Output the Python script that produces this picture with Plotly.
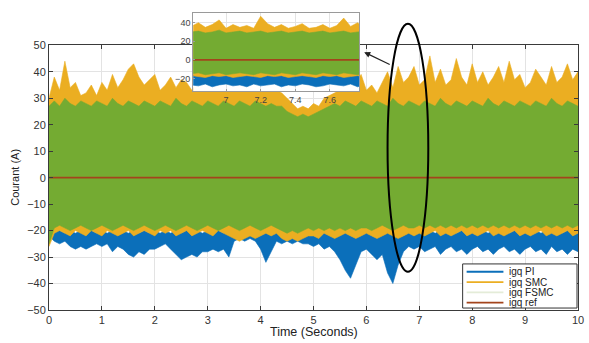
import plotly.graph_objects as go

# ---------------- data (envelopes) ----------------
time = [round(i * 0.1, 1) for i in range(101)]

smc_upper = [30, 38, 33, 44, 34, 36, 31, 32, 35, 31,
             36, 33, 39, 34, 37, 41, 43, 38, 35, 37,
             39, 33, 35, 38, 34, 37, 36, 33, 36, 34,
             38, 35, 37, 34, 39, 35, 36, 34, 38, 35,
             36, 33, 35, 33, 32, 30, 28, 26, 27, 26,
             28, 27, 30, 31, 32, 33, 35, 34, 36, 39,
             33, 35, 32, 36, 40, 34, 42, 36, 38, 42,
             35, 37, 46, 36, 41, 35, 37, 45, 38, 35,
             43, 36, 40, 35, 38, 42, 36, 44, 37, 39,
             34, 36, 41, 38, 35, 42, 36, 38, 43, 37, 40]
smc_lower = [-26, -21, -20, -21, -22, -20, -21, -22, -20, -21,
             -22, -20, -21, -22, -21, -20, -22, -21, -20, -21,
             -22, -20, -21, -20, -22, -21, -20, -22, -21, -20,
             -21, -22, -20, -21, -22, -23, -24, -23, -22, -23,
             -22, -21, -22, -21, -23, -24, -23, -24, -23, -22,
             -22, -23, -21, -22, -23, -22, -21, -22, -23, -22,
             -21, -22, -23, -22, -21, -22, -23, -22, -21, -22,
             -21, -22, -21, -20, -22, -21, -22, -21, -20, -22,
             -21, -22, -21, -20, -22, -21, -22, -21, -20, -22,
             -21, -22, -21, -20, -22, -21, -22, -21, -20, -22, -21]
fsmc_upper = [27, 29, 27, 30, 28, 27, 29, 28, 27, 29,
              28, 27, 30, 28, 27, 29, 28, 27, 29, 28,
              27, 29, 28, 27, 30, 28, 27, 29, 28, 27,
              29, 28, 27, 29, 28, 27, 29, 28, 27, 29,
              28, 27, 28, 27, 27, 25, 24, 23, 24, 23,
              24, 25, 26, 27, 28, 27, 29, 28, 27, 29,
              28, 27, 29, 28, 27, 30, 28, 27, 29, 28,
              27, 29, 28, 27, 30, 28, 27, 29, 28, 27,
              29, 28, 27, 30, 28, 27, 29, 28, 27, 29,
              28, 27, 29, 28, 27, 30, 28, 27, 29, 28, 27]
fsmc_lower = [-25, -19, -18, -19, -20, -19, -18, -19, -20, -19,
              -18, -19, -20, -19, -18, -19, -20, -19, -18, -19,
              -20, -19, -18, -19, -20, -19, -18, -19, -20, -19,
              -18, -19, -20, -19, -18, -19, -20, -19, -18, -19,
              -20, -19, -18, -19, -20, -21, -20, -21, -20, -19,
              -20, -19, -20, -19, -20, -19, -20, -19, -20, -19,
              -19, -20, -19, -18, -19, -20, -19, -18, -19, -19,
              -18, -19, -18, -19, -18, -19, -18, -19, -18, -19,
              -18, -19, -18, -19, -18, -19, -18, -19, -18, -19,
              -18, -19, -18, -19, -18, -19, -18, -19, -18, -19, -18]
pi_upper = [-22, -20, -20, -21, -20, -21, -20, -21, -20, -21,
            -20, -21, -20, -21, -20, -21, -20, -21, -20, -21,
            -20, -21, -20, -21, -20, -21, -20, -21, -20, -21,
            -20, -21, -20, -21, -20, -21, -20, -21, -20, -21,
            -20, -21, -20, -21, -20, -21, -20, -21, -20, -21,
            -20, -21, -20, -21, -20, -21, -20, -21, -20, -21,
            -20, -21, -20, -21, -20, -21, -20, -21, -20, -21,
            -20, -21, -20, -21, -20, -21, -20, -21, -20, -21,
            -20, -21, -20, -21, -20, -21, -20, -21, -20, -21,
            -20, -21, -20, -21, -20, -21, -20, -21, -20, -21, -20]
pi_lower = [-22, -24, -25, -24, -26, -27, -26, -27, -26, -25,
            -26, -25, -28, -26, -27, -29, -30, -28, -29, -27,
            -27, -26, -25, -27, -29, -31, -30, -29, -30, -28,
            -28, -27, -28, -27, -30, -24, -23, -24, -23, -24,
            -27, -32, -28, -24, -25, -24, -25, -24, -25, -25,
            -26, -25, -27, -26, -28, -31, -35, -38, -33, -28,
            -27, -29, -31, -29, -36, -40, -33, -28, -26, -27,
            -26, -28, -27, -26, -29, -27, -26, -28, -27, -29,
            -27, -26, -28, -27, -29, -27, -26, -28, -27, -29,
            -27, -26, -28, -27, -29, -26, -28, -27, -29, -27, -28]
ref_values = [0] * 101

# zoomed inset (6.8 s .. 7.8 s)
inset_time = [round(6.8 + i * 0.04, 2) for i in range(26)]
inset_smc_upper = [36, 40, 35, 38, 43, 34, 38, 35, 37, 34, 47, 39, 35,
                   38, 34, 36, 39, 34, 35, 38, 34, 37, 45, 36, 40, 35]
inset_smc_lower = [-17, -18, -19, -17, -18, -17, -19, -18, -17, -18, -19, -17, -18,
                   -17, -19, -18, -17, -18, -19, -17, -18, -17, -19, -18, -17, -18]
inset_fsmc_upper = [30, 31, 29, 30, 32, 29, 30, 31, 29, 30, 31, 29, 30,
                    31, 29, 30, 31, 29, 30, 31, 29, 30, 31, 29, 30, 31]
inset_fsmc_lower = [-15, -14, -16, -15, -14, -16, -15, -14, -15, -16, -14, -15, -16,
                    -14, -15, -16, -14, -15, -16, -14, -15, -16, -14, -15, -16, -14]
inset_pi_upper = [-16] * 26
inset_pi_lower = [-27, -28, -26, -29, -27, -26, -28, -27, -29, -26, -28, -27, -26,
                  -29, -27, -28, -26, -27, -29, -28, -26, -27, -28, -26, -29, -27]
inset_ref = [0] * 26

legend_labels = ["igq PI", "igq SMC", "igq FSMC", "igq ref"]
x_ticks = list(range(11))
y_ticks = list(range(-50, 51, 10))
inset_x_ticks = [7, 7.2, 7.4, 7.6]
inset_x_text = ["7", "7.2", "7.4", "7.6"]
inset_y_ticks = [-20, 0, 20, 40]

# ---------------- styling ----------------
C_PI = "#0b6fba"
C_SMC = "#ebae22"
C_FSMC = "#74ab32"
C_REF = "#a3441c"
FONT = "Liberation Sans"

fig = go.Figure()


def band(x, lo, hi, color, xa, ya):
    fig.add_trace(go.Scatter(x=x, y=lo, mode="lines", line=dict(color=color, width=0.6),
                             showlegend=False, hoverinfo="skip", xaxis=xa, yaxis=ya))
    fig.add_trace(go.Scatter(x=x, y=hi, mode="lines", line=dict(color=color, width=0.6),
                             fill="tonexty", fillcolor=color, showlegend=False,
                             hoverinfo="skip", xaxis=xa, yaxis=ya))


# main plot
band(time, pi_lower, pi_upper, C_PI, "x", "y")
band(time, smc_lower, smc_upper, C_SMC, "x", "y")
band(time, fsmc_lower, fsmc_upper, C_FSMC, "x", "y")
fig.add_trace(go.Scatter(x=time, y=ref_values, mode="lines", line=dict(color=C_REF, width=1.6),
                         showlegend=False, xaxis="x", yaxis="y"))

# inset
band(inset_time, inset_pi_lower, inset_pi_upper, C_PI, "x2", "y2")
band(inset_time, inset_smc_lower, inset_smc_upper, C_SMC, "x2", "y2")
band(inset_time, inset_fsmc_lower, inset_fsmc_upper, C_FSMC, "x2", "y2")
fig.add_trace(go.Scatter(x=inset_time, y=inset_ref, mode="lines", line=dict(color=C_REF, width=1.6),
                         showlegend=False, xaxis="x2", yaxis="y2"))

MAIN_TOP = 0.8852
axis_common = dict(showline=True, linecolor="#3a3a3a", linewidth=1, mirror="ticks",
                   ticks="inside", ticklen=4, tickcolor="#3a3a3a", showgrid=True,
                   gridcolor="#e3e3e3", zeroline=False,
                   tickfont=dict(family=FONT, size=11, color="#333333"))

fig.update_layout(
    width=589, height=343,
    margin=dict(l=49, r=8, t=5, b=33),
    paper_bgcolor="white", plot_bgcolor="white",
    showlegend=False,
    xaxis=dict(domain=[0, 1], range=[0, 10], tickvals=x_ticks, anchor="y", **axis_common),
    yaxis=dict(domain=[0, MAIN_TOP], range=[-50, 50], tickvals=y_ticks, anchor="x", **axis_common),
    xaxis2=dict(domain=[0.2726, 0.5865], range=[6.81, 7.77], tickvals=inset_x_ticks,
                ticktext=inset_x_text, anchor="y2", showline=True, linecolor="#9a9a9a",
                mirror=True, ticks="inside", ticklen=2, tickcolor="#9a9a9a", showgrid=True,
                gridcolor="#e3e3e3", zeroline=False,
                tickfont=dict(family=FONT, size=9, color="#444444")),
    yaxis2=dict(domain=[0.731, 0.9934], range=[-34, 50.5], tickvals=inset_y_ticks,
                anchor="x2", showline=True, linecolor="#9a9a9a", mirror=True,
                ticks="inside", ticklen=2, tickcolor="#9a9a9a", showgrid=True,
                gridcolor="#e3e3e3", zeroline=False,
                tickfont=dict(family=FONT, size=9, color="#444444")),
)

# axis titles
fig.add_annotation(text="Time (Seconds)", xref="paper", yref="paper", x=0.5, y=-0.072,
                   showarrow=False, font=dict(family=FONT, size=12.5, color="#222222"),
                   xanchor="center", yanchor="middle")
fig.add_annotation(text="Courant (A)", xref="paper", yref="paper", x=-0.064, y=MAIN_TOP / 2,
                   textangle=-90, showarrow=False,
                   font=dict(family=FONT, size=11, color="#222222"),
                   xanchor="center", yanchor="middle")

# ellipse and arrow
fig.add_shape(type="circle", xref="x", yref="paper", x0=6.40, x1=7.17, y0=0.128, y1=0.957,
              line=dict(color="black", width=2), layer="above")
fig.add_annotation(xref="paper", yref="paper", x=(366 - 49) / 532, y=(310 - 47) / 305,
                   ax=27, ay=13, text="", showarrow=True, arrowhead=2, arrowsize=1,
                   arrowwidth=1.2, arrowcolor="#222222")

# legend box (drawn in paper space)
def px_x(px):
    return (px - 49) / 532


def px_y(py):
    return (310 - py) / 305


fig.add_shape(type="rect", xref="paper", yref="paper", x0=px_x(465), x1=px_x(580),
              y0=px_y(308), y1=px_y(263), line=dict(color="#333333", width=1),
              fillcolor="white", layer="above")
legend_colors = [C_PI, C_SMC, "#e4ecd8", C_REF]
row_py = [271, 281.5, 292, 302.5]
for lbl, col, py in zip(legend_labels, legend_colors, row_py):
    fig.add_shape(type="line", xref="paper", yref="paper", x0=px_x(469), x1=px_x(506),
                  y0=px_y(py), y1=px_y(py), line=dict(color=col, width=1.8), layer="above")
    fig.add_annotation(text=lbl, xref="paper", yref="paper", x=px_x(510), y=px_y(py),
                       showarrow=False, xanchor="left", yanchor="middle",
                       font=dict(family=FONT, size=10, color="#222222"))

fig.write_html("out.html")
